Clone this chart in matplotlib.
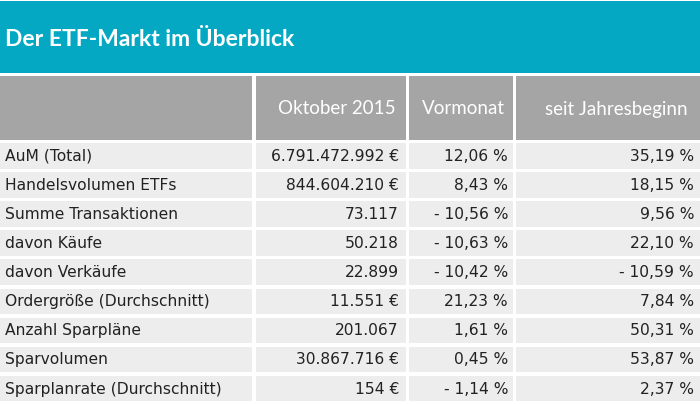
import matplotlib
matplotlib.use("Agg")
import matplotlib.pyplot as plt
from matplotlib.patches import Rectangle

title = "Der ETF-Markt im Überblick"
headers = ["", "Oktober 2015", "Vormonat", "seit Jahresbeginn"]
labels = ["AuM (Total)", "Handelsvolumen ETFs", "Summe Transaktionen", "davon Käufe",
          "davon Verkäufe", "Ordergröße (Durchschnitt)", "Anzahl Sparpläne",
          "Sparvolumen", "Sparplanrate (Durchschnitt)"]
oktober = ["6.791.472.992 €", "844.604.210 €", "73.117", "50.218", "22.899",
           "11.551 €", "201.067", "30.867.716 €", "154 €"]
vormonat = ["12,06 %", "8,43 %", "- 10,56 %", "- 10,63 %", "- 10,42 %",
            "21,23 %", "1,61 %", "0,45 %", "- 1,14 %"]
jahr = ["35,19 %", "18,15 %", "9,56 %", "22,10 %", "- 10,59 %",
        "7,84 %", "50,31 %", "53,87 %", "2,37 %"]

W, H = 700, 404
fig = plt.figure(figsize=(7, 4.04), dpi=100)
ax = fig.add_axes([0, 0, 1, 1])
ax.set_xlim(0, W)
ax.set_ylim(H, 0)
ax.axis("off")
fig.patch.set_facecolor("white")

teal = "#05A8C2"
hgray = "#A5A5A5"
rgray = "#EDEDED"

# title band
ax.add_patch(Rectangle((0, 1), W, 72, color=teal, lw=0))
ax.text(5, 40, title, color="white", fontsize=16.5, fontweight="bold",
        family=["Lato", "DejaVu Sans"], va="center", ha="left")

col_edges = [(0, 252), (256, 405.5), (408.5, 513), (516, 700)]
head_top, head_bot = 75.5, 140
for (x0, x1) in col_edges:
    ax.add_patch(Rectangle((x0, head_top), x1 - x0, head_bot - head_top, color=hgray, lw=0))
hdr_right = [396, 505, 688]
for i, h in enumerate(headers[1:]):
    ax.text(hdr_right[i], 109, h, color="white", fontsize=13.5,
            family=["Lato", "DejaVu Sans"], va="center", ha="right")

row_top0 = 143
pitch = 29.1
rh = 25.5
body = dict(fontsize=11.2, family=["DejaVu Sans"], color="#222222", va="center")
for r in range(len(labels)):
    y0 = row_top0 + r * pitch
    for (x0, x1) in col_edges:
        ax.add_patch(Rectangle((x0, y0), x1 - x0, rh, color=rgray, lw=0))
    yc = y0 + rh / 2 + 0.5
    ax.text(5, yc, labels[r], ha="left", **body)
    ax.text(399, yc, oktober[r], ha="right", **body)
    ax.text(508, yc, vormonat[r], ha="right", **body)
    ax.text(694, yc, jahr[r], ha="right", **body)

fig.savefig("out.png", dpi=100, facecolor="white")
